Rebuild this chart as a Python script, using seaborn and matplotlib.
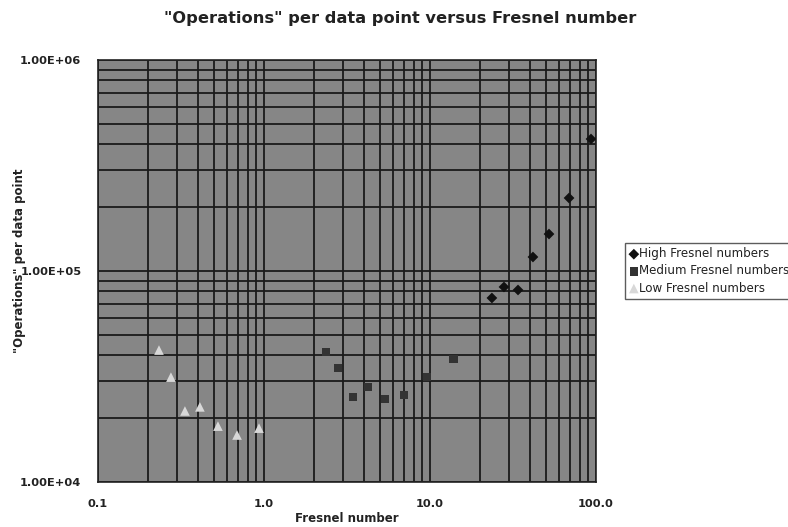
import matplotlib
matplotlib.use("Agg")
import matplotlib.pyplot as plt
import seaborn as sns
import numpy as np
import pandas as pd
from matplotlib.ticker import FixedLocator, LogLocator, NullFormatter

# data
high_x = [23.6, 27.9, 33.9, 41.7, 52.1, 68.8, 93.3]
high_y = [74500, 84000, 81300, 116500, 149700, 221800, 422300]

medium_x = [2.36, 2.79, 3.44, 4.23, 5.36, 6.97, 9.59, 13.8]
medium_y = [41300, 34700, 25300, 28200, 24700, 25800, 31400, 38300]

low_x = [0.233, 0.275, 0.334, 0.411, 0.528, 0.688, 0.933]
low_y = [42200, 31400, 21700, 22700, 18400, 16700, 18000]

series_names = ["High Fresnel numbers", "Medium Fresnel numbers", "Low Fresnel numbers"]
x_ticks = [0.1, 1.0, 10.0, 100.0]
x_labels = ["0.1", "1.0", "10.0", "100.0"]
y_ticks = [1e4, 1e5, 1e6]
y_labels = ["1.00E+04", "1.00E+05", "1.00E+06"]

df = pd.concat([
    pd.DataFrame({"x": high_x, "y": high_y, "series": series_names[0]}),
    pd.DataFrame({"x": medium_x, "y": medium_y, "series": series_names[1]}),
    pd.DataFrame({"x": low_x, "y": low_y, "series": series_names[2]}),
], ignore_index=True)

sns.set_style("white")
plt.rcParams["font.family"] = ["DejaVu Sans"]

fig = plt.figure(figsize=(7.88, 5.27), dpi=100)
ax = fig.add_axes([98 / 788, 45 / 527, 498 / 788, 422 / 527])

palette = {series_names[0]: "#111111", series_names[1]: "#333333", series_names[2]: "#d8d8d8"}
markers = {series_names[0]: "D", series_names[1]: "s", series_names[2]: "^"}
sizes = {series_names[0]: 30, series_names[1]: 38, series_names[2]: 48}

for name in series_names:
    sub = df[df["series"] == name]
    sns.scatterplot(data=sub, x="x", y="y", ax=ax, color=palette[name],
                    marker=markers[name], s=sizes[name], edgecolor="none",
                    label=name, zorder=3)

ax.set_xscale("log")
ax.set_yscale("log")
ax.set_xlim(0.1, 100)
ax.set_ylim(1e4, 1e6)
ax.set_facecolor("#868686")

ax.xaxis.set_major_locator(FixedLocator(x_ticks))
ax.set_xticklabels(x_labels)
ax.yaxis.set_major_locator(FixedLocator(y_ticks))
ax.set_yticklabels(y_labels)
ax.xaxis.set_minor_locator(LogLocator(base=10, subs=np.arange(2, 10)))
ax.yaxis.set_minor_locator(LogLocator(base=10, subs=np.arange(2, 10)))
ax.xaxis.set_minor_formatter(NullFormatter())
ax.yaxis.set_minor_formatter(NullFormatter())

ax.grid(which="both", color="#1a1a1a", linewidth=1.3, zorder=1)
ax.set_axisbelow(True)
ax.tick_params(which="major", direction="out", length=5, width=1, color="#222222",
               labelsize=8.2, pad=7)
ax.tick_params(which="minor", length=0)
for lbl in ax.get_xticklabels() + ax.get_yticklabels():
    lbl.set_fontweight("bold")
    lbl.set_color("#222222")
for sp in ax.spines.values():
    sp.set_color("#222222")
    sp.set_linewidth(1.2)

ax.set_xlabel("Fresnel number", fontsize=8.5, fontweight="bold", color="#222222")
ax.set_ylabel("\"Operations\" per data point", fontsize=8.5, fontweight="bold",
              color="#222222")
ax.xaxis.set_label_coords(0.5, -0.071)
ax.yaxis.set_label_coords(-0.145, 0.524)
fig.suptitle("\"Operations\" per data point versus Fresnel number", x=400 / 788, y=0.98,
             fontsize=11.7, fontweight="bold", color="#222222")

leg = ax.legend(loc="center left", bbox_to_anchor=(1.058, 0.5), frameon=True,
                fancybox=False, fontsize=8.6, handletextpad=0.05, borderpad=0.35,
                handlelength=0.8, labelspacing=0.35, borderaxespad=0)
leg.get_frame().set_edgecolor("#333333")
leg.get_frame().set_linewidth(1.0)
for t in leg.get_texts():
    t.set_color("#222222")

fig.savefig("out.png", dpi=100)
